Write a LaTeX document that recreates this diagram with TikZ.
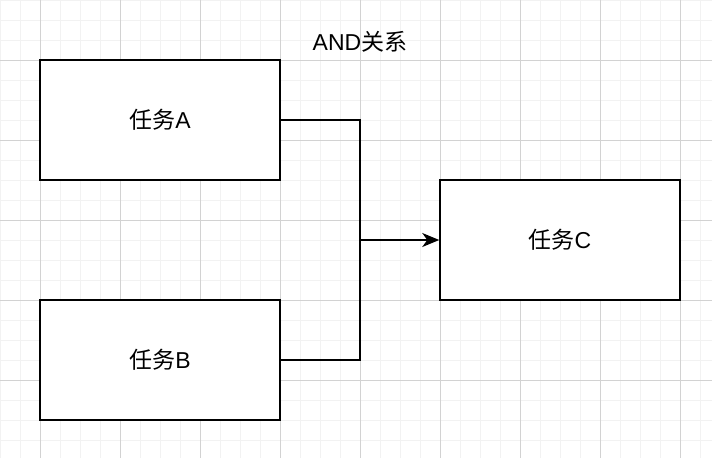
\documentclass[tikz,border=0pt]{standalone}
\usepackage{fontspec}
\setmainfont{Liberation Sans}
\newfontfamily\cjk{Noto Sans CJK SC}
\usetikzlibrary{arrows.meta}
\definecolor{gridminor}{RGB}{242,242,242}
\definecolor{gridmajor}{RGB}{210,210,210}

\begin{document}
\begin{tikzpicture}[x=1pt,y=-1pt,line width=1.5pt,
  taskbox/.style={draw=black,fill=white,minimum width=240pt,minimum height=120pt,
    inner sep=0pt,font=\fontsize{23}{27}\selectfont}]
  \useasboundingbox (0,0) rectangle (712,458);
  \fill[white] (0,0) rectangle (712,458);
  % grid
  \foreach \x in {0,20,...,700} \draw[gridminor,line width=1pt] (\x,0) -- (\x,458);
  \foreach \y in {0,20,...,440} \draw[gridminor,line width=1pt] (0,\y) -- (712,\y);
  \foreach \x in {40,120,...,680} \draw[gridmajor,line width=1pt] (\x,0) -- (\x,458);
  \foreach \y in {60,140,...,380} \draw[gridmajor,line width=1pt] (0,\y) -- (712,\y);
  % tasks
  \node[taskbox] (taskA) at (160,120) {{\cjk 任务}A};
  \node[taskbox] (taskB) at (160,360) {{\cjk 任务}B};
  \node[taskbox] (taskC) at (560,240) {{\cjk 任务}C};
  \node[font=\fontsize{23}{27}\selectfont] (title) at (360,42) {AND{\cjk 关系}};
  \coordinate (join) at (360,240);
  \draw (taskA.east) -| (join);
  \draw (taskB.east) -| (join);
  \draw[-{Stealth[length=17pt,width=14pt,inset=5pt]}] (join) -- (taskC.west);
\end{tikzpicture}
\end{document}
